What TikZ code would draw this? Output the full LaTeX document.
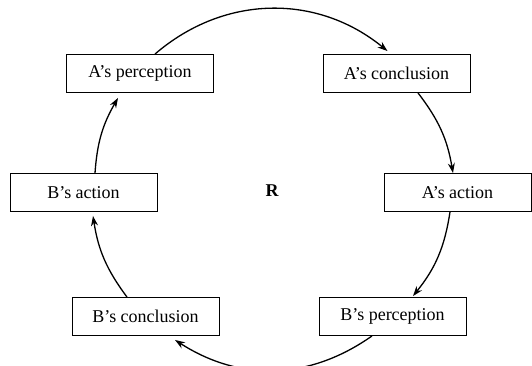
\documentclass[tikz,border=0pt]{standalone}
\usepackage{fontspec}
\setmainfont{Liberation Serif}
\usetikzlibrary{arrows.meta}
\begin{document}
\begin{tikzpicture}[x=1pt,y=-1pt,
  box/.style={draw, line width=0.9pt, minimum width=147pt, minimum height=38pt, inner sep=0pt, font=\fontsize{18}{20}\selectfont},
  arr/.style={line width=1.3pt, -{Stealth[length=10pt,width=7pt]}}]
\useasboundingbox (0,0) rectangle (532,366);
\node[box] (ap) at (140,73.5) {A’s perception};
\node[box] (ac) at (396.5,73.5) {A’s conclusion};
\node[box] (ba) at (83.5,192.5) {B’s action};
\node[box] (aa) at (457.5,192.5) {A’s action};
\node[box] (bc) at (145.5,316.5) {B’s conclusion};
\node[box] (bp) at (392.5,316.5) {B’s perception};
\node[font=\fontsize{18}{20}\selectfont\bfseries] (r) at (272,191) {R};
\draw[arr] ([xshift=15pt]ap.north) to[bend left=40] ([xshift=-9pt,yshift=3pt]ac.north);
\draw[arr] ([xshift=21.5pt]ac.south) to[bend left=14] ([xshift=-4.5pt]aa.north);
\draw[arr] ([xshift=-7.5pt]aa.south) to[bend left=15] ([xshift=20.5pt,yshift=1pt]bp.north);
\draw[arr] ([xshift=-20.5pt]bp.south) to[bend left=34] ([xshift=29.5pt,yshift=-4pt]bc.south);
\draw[arr] ([xshift=-18.5pt]bc.north) to[bend left=14] ([xshift=9.5pt,yshift=-4pt]ba.south);
\draw[arr] ([xshift=11.5pt]ba.north) to[bend left=13] ([xshift=-22pt,yshift=-5pt]ap.south);
\end{tikzpicture}
\end{document}
